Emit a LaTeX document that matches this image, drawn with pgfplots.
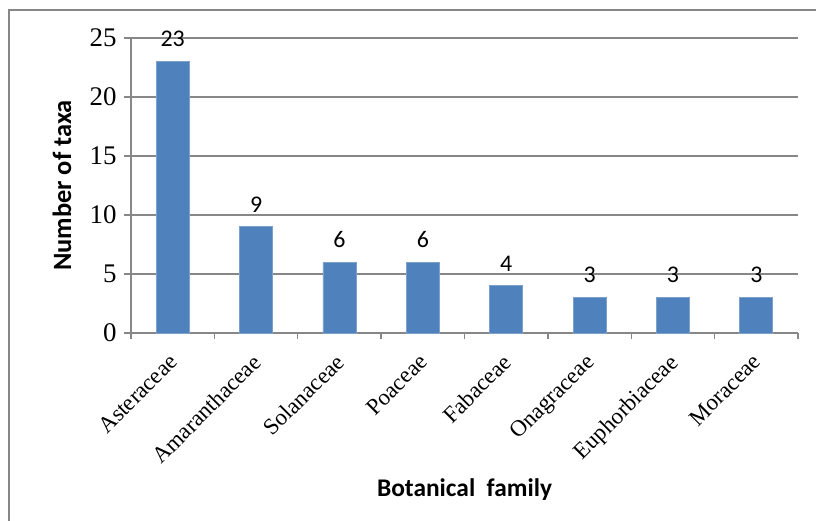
\documentclass[border=0pt]{standalone}
\usepackage{pgfplots}
\pgfplotsset{compat=1.18}
\usepackage{fontspec}
\setmainfont{Liberation Serif}
\newfontfamily\calibri{Carlito}
\definecolor{barblue}{HTML}{4F81BD}
\definecolor{baredge}{HTML}{7EA1CC}
\definecolor{axgray}{HTML}{878787}
\begin{document}
\begin{tikzpicture}
\begin{axis}[
  at={(0,0)}, anchor=south west,
  scale only axis,
  width=667bp, height=295bp,
  ymin=0, ymax=25,
  xmin=-0.5, xmax=7.5,
  ytick={0,5,...,25},
  xtick={0,...,7},
  xticklabels={Asteraceae,Amaranthaceae,Solanaceae,Poaceae,Fabaceae,Onagraceae,Euphorbiaceae,Moraceae},
  axis x line*=bottom,
  axis y line*=left,
  axis line style={draw=axgray, line width=1.4bp},
  ymajorgrids,
  grid style={draw=axgray, line width=1.4bp},
  tick align=outside,
  major tick length=7bp,
  ytick style={draw=axgray, line width=1.4bp},
  xtick style={draw=none},
  extra x ticks={-0.5,0.5,...,7.5},
  extra x tick labels={},
  extra x tick style={xtick style={draw=axgray, line width=1.4bp}, major tick length=6bp},
  /pgf/number format/assume math mode=true,
  yticklabel style={font=\fontsize{27}{29}\selectfont, xshift=-4bp},
  xticklabel style={font=\fontsize{23}{25}\selectfont, rotate=45, anchor=north east, xshift=-9bp, yshift=-2bp},
  ylabel={Number of taxa},
  xlabel={Botanical\hspace{0.45em}family},
  ylabel style={font=\calibri\bfseries\fontsize{26.5}{28}\selectfont, at={(axis description cs:0,0.5)}, anchor=center, yshift=69bp},
  xlabel style={font=\calibri\bfseries\fontsize{25.5}{27}\selectfont, at={(axis description cs:0.5,0)}, anchor=center, yshift=-157bp},
  nodes near coords,
  every node near coord/.append style={font=\calibri\fontsize{24}{26}\selectfont, text=black, anchor=south, yshift=11bp},
  clip=false,
]
\addplot[ybar, bar width=33bp, fill=barblue, draw=baredge, line width=0.8bp] coordinates {
  (0,23) (1,9) (2,6) (3,6) (4,4) (5,3) (6,3) (7,3)
};
\end{axis}
\draw[axgray, line width=1.4bp] (-122bp,-200bp) -- (-122bp,323bp) -- (700bp,323bp);
\pgfresetboundingbox
\useasboundingbox (-131bp,-188bp) rectangle (685bp,333bp);
\end{tikzpicture}
\end{document}
